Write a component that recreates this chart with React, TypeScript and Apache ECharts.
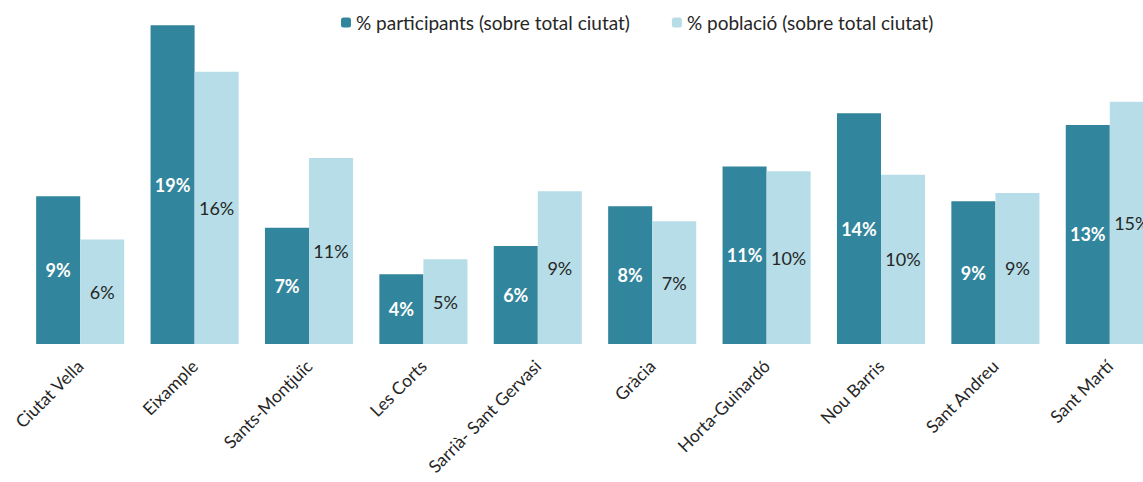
import React, { useEffect, useRef } from "react";
import * as echarts from "echarts";

const categories = [
  "Ciutat Vella",
  "Eixample",
  "Sants-Montjuïc",
  "Les Corts",
  "Sarrià- Sant Gervasi",
  "Gràcia",
  "Horta-Guinardó",
  "Nou Barris",
  "Sant Andreu",
  "Sant Martí",
];
const participants = [8.9, 19.2, 7.0, 4.2, 5.9, 8.3, 10.7, 13.9, 8.6, 13.2];
const poblacio = [6.3, 16.4, 11.2, 5.1, 9.2, 7.4, 10.4, 10.2, 9.1, 14.6];
const seriesNames = ["% participants (sobre total ciutat)", "% població (sobre total ciutat)"];

const FONT = "Lato";

export default function App() {
  const ref = useRef<HTMLDivElement>(null);
  useEffect(() => {
    if (!ref.current) return;
    const chart = echarts.init(ref.current, undefined, { renderer: "svg" });
    chart.setOption({
      animation: false,
      textStyle: { fontFamily: FONT },
      legend: {
        top: 8,
        left: 336,
        itemWidth: 10,
        itemHeight: 10,
        itemGap: 42,
        itemTextGap: 6,
        textStyle: { fontSize: 19, color: "#262626", fontFamily: FONT },
        data: seriesNames,
      },
      grid: {
        left: 23,
        width: 1144,
        top: 12,
        height: 332,
        containLabel: false,
        outerBoundsMode: "none",
      },
      xAxis: {
        type: "category",
        data: categories,
        axisLine: { show: false },
        axisTick: { show: false },
        axisLabel: {
          rotate: 45,
          margin: 19,
          fontSize: 17.5,
          color: "#262626",
          fontFamily: FONT,
          interval: 0,
        },
      },
      yAxis: { type: "value", min: 0, max: 20, show: false, splitLine: { show: false } },
      series: [
        {
          name: seriesNames[0],
          type: "bar",
          data: participants,
          barGap: "0%",
          barCategoryGap: "23%",
          itemStyle: { color: "#31859C" },
          label: {
            show: true,
            position: "inside",
            formatter: (p: any) => Math.round(p.value) + "%",
            color: "#ffffff",
            fontWeight: "bold",
            fontSize: 18,
            fontFamily: FONT,
          },
        },
        {
          name: seriesNames[1],
          type: "bar",
          data: poblacio,
          itemStyle: { color: "#B7DEE8" },
          label: {
            show: true,
            position: "inside",
            formatter: (p: any) => Math.round(p.value) + "%",
            color: "#262626",
            fontSize: 18,
            fontFamily: FONT,
          },
        },
      ],
    });
    return () => chart.dispose();
  }, []);
  return (
    <div style={{ position: "fixed", left: 0, top: 0, width: 1143, height: 482, overflow: "hidden", background: "#fff" }}>
      <div ref={ref} style={{ width: 1200, height: 482 }} />
    </div>
  );
}
